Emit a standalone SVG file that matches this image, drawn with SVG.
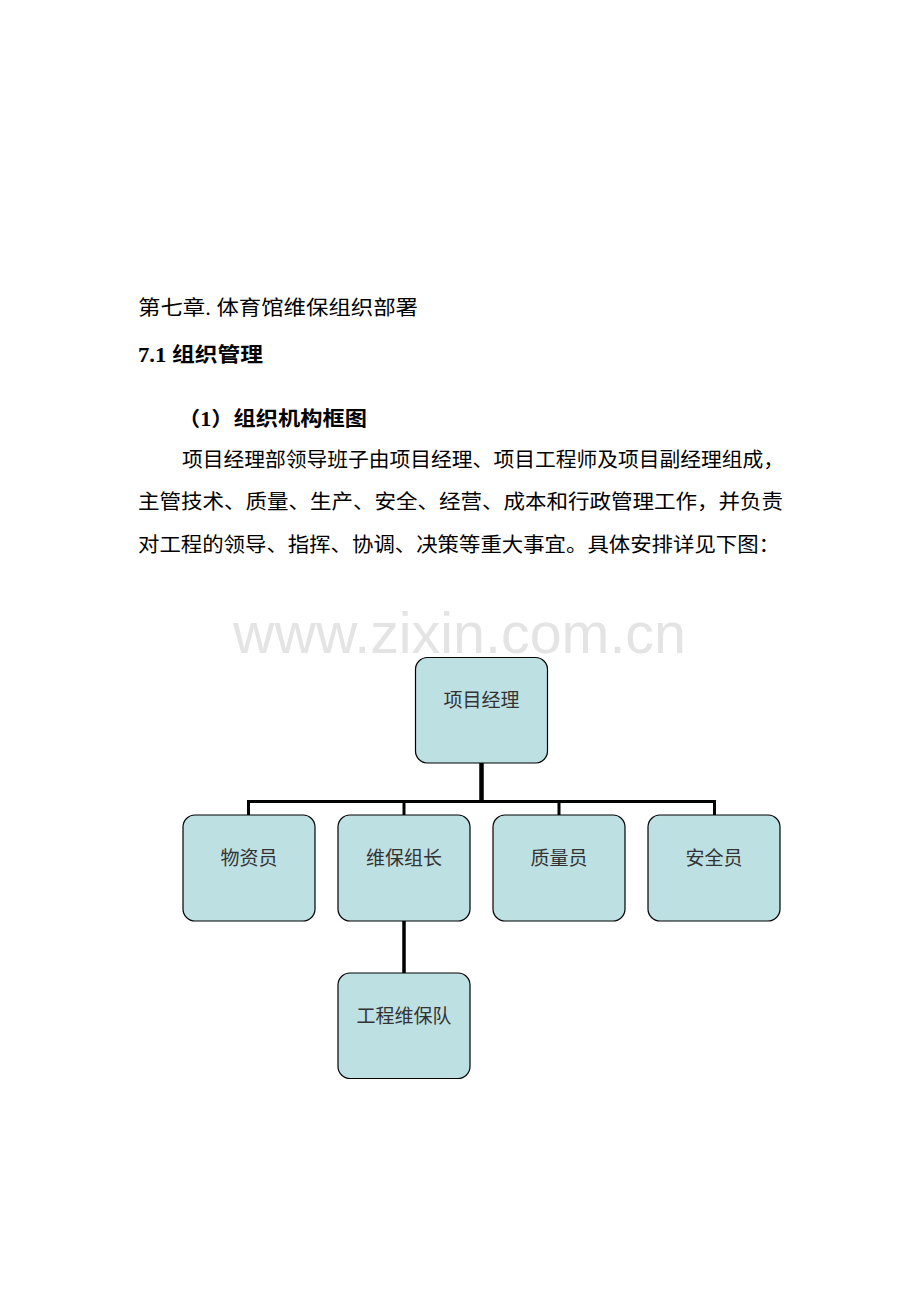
<svg xmlns="http://www.w3.org/2000/svg" width="920" height="1302" viewBox="0 0 920 1302">
<style>
.t{font-family:"Liberation Serif","Noto Sans CJK SC",serif;font-size:20px;fill:#000}
.b{font-weight:bold}
.wm{font-family:"Liberation Sans",Arial,sans-serif;font-size:57px;fill:#e4e4e4}
.box{fill:#bde0e3;stroke:#000;stroke-width:1.2}
.lbl{font-family:"Noto Sans CJK SC",sans-serif;font-size:19px;fill:#333;text-anchor:middle}
.con{stroke:#000;fill:none}
</style>
<rect width="920" height="1302" fill="#fff"/>
<text class="t" x="138" y="315" textLength="280" lengthAdjust="spacingAndGlyphs">第七章.  体育馆维保组织部署</text>
<text class="t b" x="138" y="362" textLength="125" lengthAdjust="spacingAndGlyphs">7.1 组织管理</text>
<text class="t b" x="178" y="426" textLength="189" lengthAdjust="spacingAndGlyphs">（1）组织机构框图</text>
<text class="t" x="182" y="467" textLength="602" lengthAdjust="spacingAndGlyphs">项目经理部领导班子由项目经理、项目工程师及项目副经理组成，</text>
<text class="t" x="138" y="509" textLength="645" lengthAdjust="spacingAndGlyphs">主管技术、质量、生产、安全、经营、成本和行政管理工作，并负责</text>
<text class="t" x="138" y="552" textLength="642" lengthAdjust="spacingAndGlyphs">对工程的领导、指挥、协调、决策等重大事宜。具体安排详见下图：</text>
<text class="wm" x="233" y="653" textLength="453" lengthAdjust="spacingAndGlyphs">www.zixin.com.cn</text>
<g id="connectors">
<line class="con" x1="481.5" y1="763" x2="481.5" y2="801.5" stroke-width="4.5"/>
<polyline class="con" points="248.5,815 248.5,801.5 714.5,801.5 714.5,815" stroke-width="3"/>
<line class="con" x1="404" y1="801.5" x2="404" y2="815" stroke-width="3"/>
<line class="con" x1="559" y1="801.5" x2="559" y2="815" stroke-width="3"/>
<line class="con" x1="404" y1="921" x2="404" y2="973" stroke-width="3.5"/>
</g>
<g id="n-pm"><rect class="box" x="415.5" y="657.5" width="132" height="105.5" rx="12"/><text class="lbl" x="481.5" y="707">项目经理</text></g>
<g id="n-wzy"><rect class="box" x="183" y="815" width="132" height="106" rx="12"/><text class="lbl" x="249" y="865">物资员</text></g>
<g id="n-wbzz"><rect class="box" x="338" y="815" width="132" height="106" rx="12"/><text class="lbl" x="404" y="865">维保组长</text></g>
<g id="n-zly"><rect class="box" x="493" y="815" width="132" height="106" rx="12"/><text class="lbl" x="559" y="865">质量员</text></g>
<g id="n-aqy"><rect class="box" x="648" y="815" width="132" height="106" rx="12"/><text class="lbl" x="714" y="865">安全员</text></g>
<g id="n-gcwbd"><rect class="box" x="338" y="973" width="132" height="105.5" rx="12"/><text class="lbl" x="404" y="1023">工程维保队</text></g>
</svg>
